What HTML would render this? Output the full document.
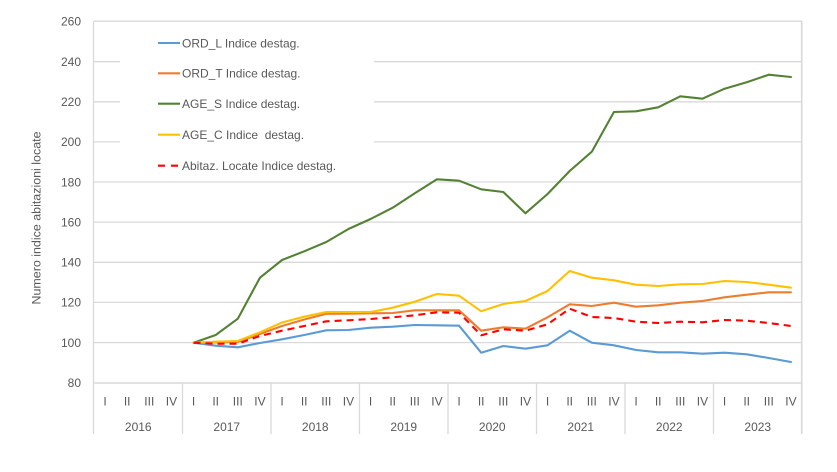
<!DOCTYPE html>
<html><head><meta charset="utf-8"><style>
html,body{margin:0;padding:0;background:#fff;}
svg{display:block;font-family:"Liberation Sans",Arial,sans-serif;}
</style></head><body>
<svg width="837" height="472" viewBox="0 0 837 472" xmlns="http://www.w3.org/2000/svg">
<rect width="837" height="472" fill="#fff"/>
<!-- gridlines -->
<g stroke="#D9D9D9" stroke-width="1.3" fill="none">
<line x1="94" y1="61.7" x2="802" y2="61.7"/>
<line x1="94" y1="101.8" x2="802" y2="101.8"/>
<line x1="94" y1="141.9" x2="802" y2="141.9"/>
<line x1="94" y1="182" x2="802" y2="182"/>
<line x1="94" y1="222.1" x2="802" y2="222.1"/>
<line x1="94" y1="262.3" x2="802" y2="262.3"/>
<line x1="94" y1="302.4" x2="802" y2="302.4"/>
<line x1="94" y1="342.6" x2="802" y2="342.6"/>
<line x1="94" y1="21.2" x2="802" y2="21.2"/>
<line x1="93.5" y1="21" x2="93.5" y2="434"/>
<line x1="801.7" y1="21" x2="801.7" y2="434" stroke-width="1.6"/>
<line x1="94" y1="383" x2="802" y2="383" stroke-width="1.6"/>
<line x1="182.5" y1="383" x2="182.5" y2="434"/>
<line x1="271" y1="383" x2="271" y2="434"/>
<line x1="359.5" y1="383" x2="359.5" y2="434"/>
<line x1="448" y1="383" x2="448" y2="434"/>
<line x1="536.5" y1="383" x2="536.5" y2="434"/>
<line x1="625" y1="383" x2="625" y2="434"/>
<line x1="713.5" y1="383" x2="713.5" y2="434"/>
</g>
<!-- legend background -->
<rect x="120" y="24" width="254" height="152" fill="#fff"/>
<!-- y labels -->
<g fill="#595959" font-size="12" text-anchor="end">
<text x="81" y="25.5">260</text>
<text x="81" y="66">240</text>
<text x="81" y="106.1">220</text>
<text x="81" y="146.2">200</text>
<text x="81" y="186.3">180</text>
<text x="81" y="226.4">160</text>
<text x="81" y="266.6">140</text>
<text x="81" y="306.7">120</text>
<text x="81" y="346.9">100</text>
<text x="81" y="387.2">80</text>
</g>
<text transform="translate(40.5,218) rotate(-90)" fill="#595959" font-size="11.5" text-anchor="middle" textLength="173" lengthAdjust="spacingAndGlyphs">Numero indice abitazioni locate</text>
<!-- category labels -->
<g fill="#595959" font-size="12" text-anchor="middle">
<text x="105.06" y="405.5">I</text><text x="127.19" y="405.5">II</text><text x="149.31" y="405.5">III</text><text x="171.44" y="405.5">IV</text>
<text x="193.56" y="405.5">I</text><text x="215.69" y="405.5">II</text><text x="237.81" y="405.5">III</text><text x="259.94" y="405.5">IV</text>
<text x="282.06" y="405.5">I</text><text x="304.19" y="405.5">II</text><text x="326.31" y="405.5">III</text><text x="348.44" y="405.5">IV</text>
<text x="370.56" y="405.5">I</text><text x="392.69" y="405.5">II</text><text x="414.81" y="405.5">III</text><text x="436.94" y="405.5">IV</text>
<text x="459.06" y="405.5">I</text><text x="481.19" y="405.5">II</text><text x="503.31" y="405.5">III</text><text x="525.44" y="405.5">IV</text>
<text x="547.56" y="405.5">I</text><text x="569.69" y="405.5">II</text><text x="591.81" y="405.5">III</text><text x="613.94" y="405.5">IV</text>
<text x="636.06" y="405.5">I</text><text x="658.19" y="405.5">II</text><text x="680.31" y="405.5">III</text><text x="702.44" y="405.5">IV</text>
<text x="724.56" y="405.5">I</text><text x="746.69" y="405.5">II</text><text x="768.81" y="405.5">III</text><text x="790.94" y="405.5">IV</text>
<text x="138.25" y="431">2016</text>
<text x="226.75" y="431">2017</text>
<text x="315.25" y="431">2018</text>
<text x="403.75" y="431">2019</text>
<text x="492.25" y="431">2020</text>
<text x="580.75" y="431">2021</text>
<text x="669.25" y="431">2022</text>
<text x="757.75" y="431">2023</text>
</g>
<!-- series -->
<g fill="none" stroke-width="2.1" stroke-linejoin="round" stroke-linecap="round">
<polyline stroke="#5B9BD5" points="193.56,342.7 215.69,345.7 237.81,347.3 259.94,343 282.06,339.3 304.19,335 326.31,330.3 348.44,330 370.56,327.7 392.69,326.7 414.81,325 436.94,325.3 459.06,325.7 481.19,352.7 503.31,346 525.44,348.7 547.56,345.3 569.69,330.7 591.81,342.7 613.94,345.3 636.06,350 658.19,352.3 680.31,352.3 702.44,353.7 724.56,352.7 746.69,354.3 768.81,358 790.94,362"/>
<polyline stroke="#ED7D31" points="193.56,342.7 215.69,342.3 237.81,342 259.94,334 282.06,326 304.19,319.5 326.31,313.8 348.44,313.7 370.56,313.3 392.69,313 414.81,310.3 436.94,310.3 459.06,310.3 481.19,330.7 503.31,327.3 525.44,328.7 547.56,317.3 569.69,304.3 591.81,306 613.94,302.7 636.06,306.7 658.19,305.3 680.31,302.7 702.44,301 724.56,297.3 746.69,294.7 768.81,292.3 790.94,292.3"/>
<polyline stroke="#548235" points="193.56,342.7 215.69,335 237.81,318.7 259.94,277.7 282.06,260 304.19,251.3 326.31,242 348.44,229 370.56,219 392.69,207.7 414.81,193.3 436.94,179.3 459.06,180.7 481.19,189.3 503.31,192 525.44,213.3 547.56,194 569.69,171 591.81,151.7 613.94,112 636.06,111.3 658.19,107.3 680.31,96.3 702.44,98.7 724.56,88.7 746.69,82.3 768.81,74.7 790.94,77"/>
<polyline stroke="#FFC000" points="193.56,342.7 215.69,341.7 237.81,341 259.94,332.3 282.06,322.5 304.19,316.7 326.31,312 348.44,312 370.56,312 392.69,307.7 414.81,301.7 436.94,294 459.06,295.7 481.19,311.3 503.31,304 525.44,301 547.56,291 569.69,271 591.81,277.7 613.94,280.3 636.06,284.7 658.19,286 680.31,284.3 702.44,284 724.56,281 746.69,282 768.81,284.7 790.94,287.7"/>
<polyline stroke="#FF0000" stroke-dasharray="7,5" stroke-linecap="butt" points="193.56,342.7 215.69,343.7 237.81,343.7 259.94,336 282.06,330.7 304.19,326 326.31,321.3 348.44,320.3 370.56,319 392.69,317.3 414.81,315.3 436.94,312.3 459.06,312.7 481.19,335.3 503.31,329.3 525.44,330.7 547.56,324.3 569.69,308.7 591.81,317 613.94,318 636.06,321.7 658.19,323 680.31,321.7 702.44,322.3 724.56,320 746.69,320.7 768.81,323 790.94,326"/>
</g>
<!-- legend -->
<g stroke-width="2.1">
<line x1="158" y1="43" x2="180" y2="43" stroke="#5B9BD5"/>
<line x1="158" y1="73.3" x2="180" y2="73.3" stroke="#ED7D31"/>
<line x1="158" y1="103.7" x2="180" y2="103.7" stroke="#548235"/>
<line x1="158" y1="134.7" x2="180" y2="134.7" stroke="#FFC000"/>
<line x1="158" y1="165.7" x2="180" y2="165.7" stroke="#FF0000" stroke-dasharray="7,6"/>
</g>
<g fill="#595959" font-size="12">
<text x="182" y="47.3">ORD_L Indice destag.</text>
<text x="182" y="77.6">ORD_T Indice destag.</text>
<text x="182" y="108">AGE_S Indice destag.</text>
<text x="182" y="139" xml:space="preserve">AGE_C Indice  destag.</text>
<text x="182" y="170">Abitaz. Locate Indice destag.</text>
</g>
</svg>
</body></html>
